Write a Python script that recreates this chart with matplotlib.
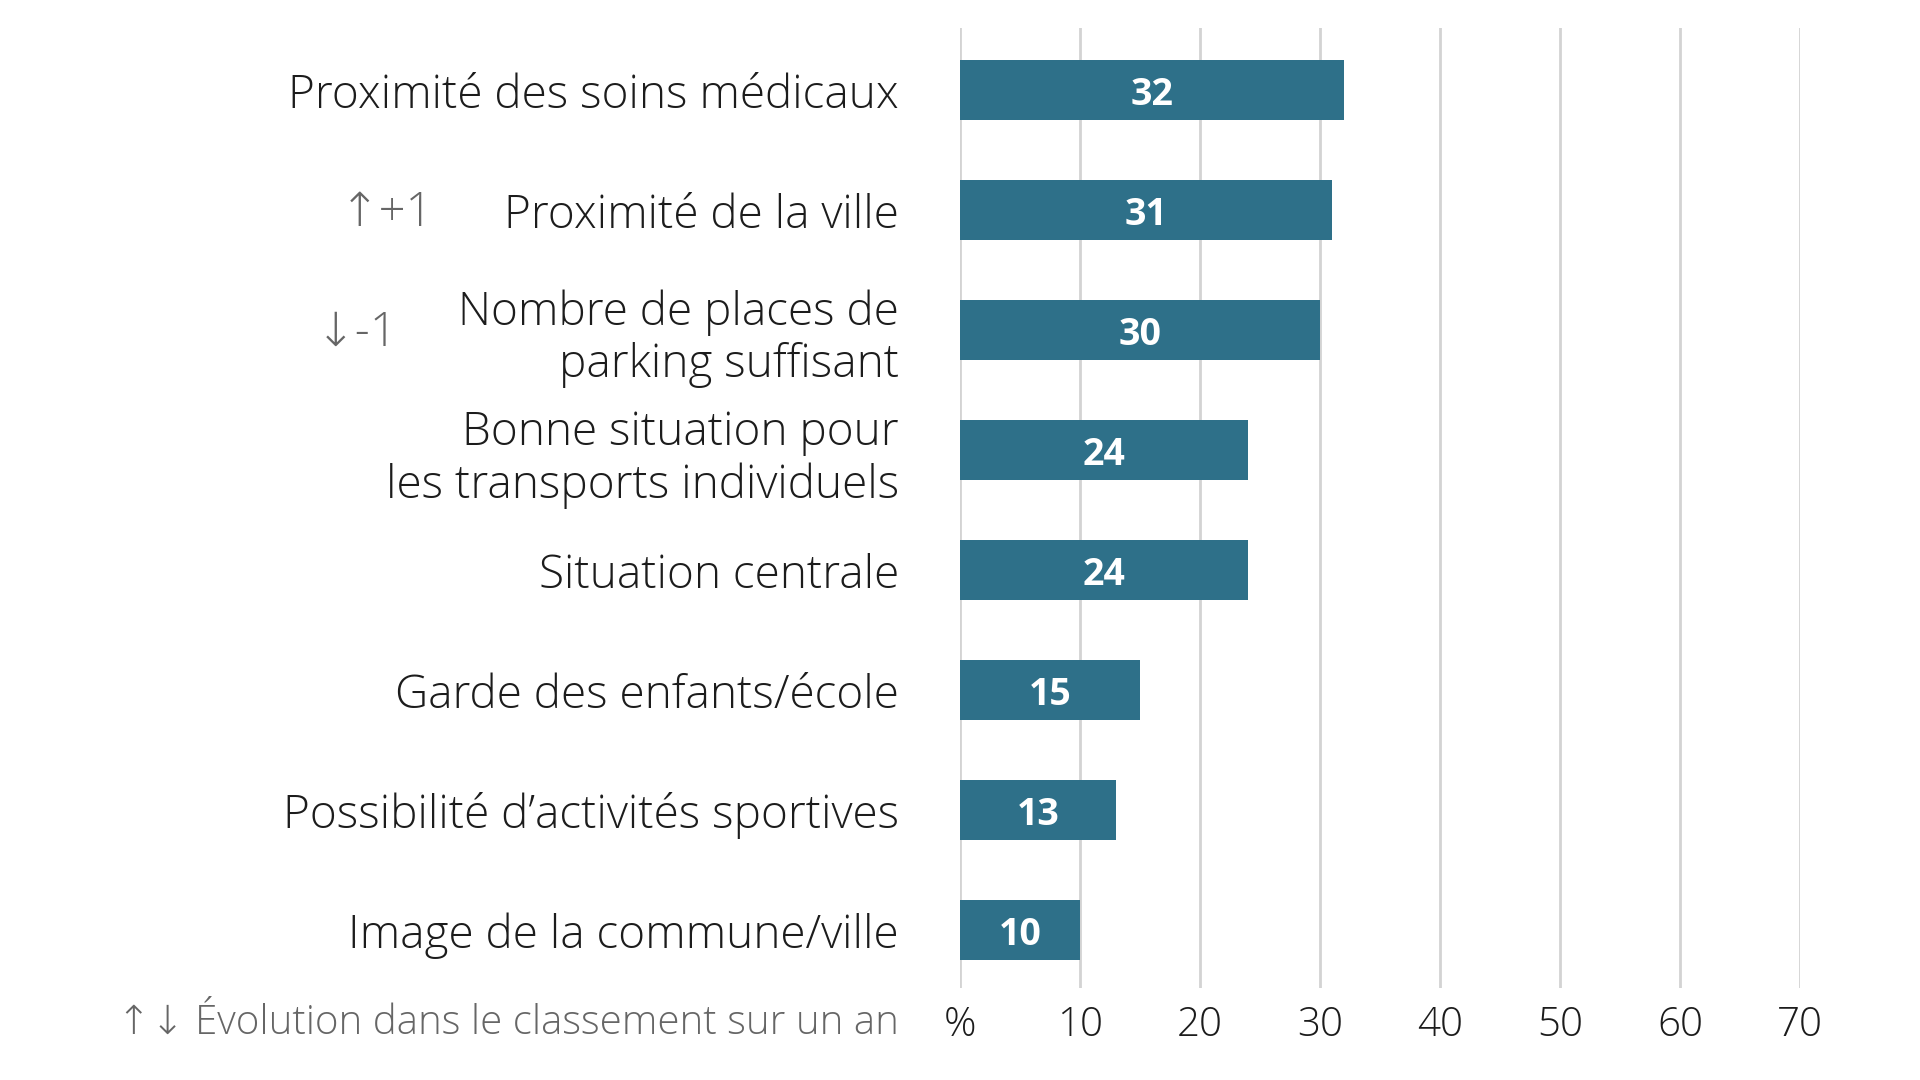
import matplotlib
matplotlib.use("Agg")
import matplotlib.pyplot as plt

plt.rcParams['font.family'] = ['Open Sans', 'DejaVu Sans']

categories = [
    "Proximité des soins médicaux",
    "Proximité de la ville",
    "Nombre de places de\nparking suffisant",
    "Bonne situation pour\nles transports individuels",
    "Situation centrale",
    "Garde des enfants/école",
    "Possibilité d’activités sportives",
    "Image de la commune/ville",
]
values = [32, 31, 30, 24, 24, 15, 13, 10]
rank_changes = ["", "↑+1", "↓-1", "", "", "", "", ""]
xtick_values = [0, 10, 20, 30, 40, 50, 60, 70]
xtick_labels = ["%", "10", "20", "30", "40", "50", "60", "70"]
footnote = "↑↓ Évolution dans le classement sur un an"

BAR = "#2e7089"
TEXT = "#1c1c1c"
GRAY = "#666666"

fig = plt.figure(figsize=(19.2, 10.8), dpi=100)
ax = fig.add_axes([0.5, 1 - 988 / 1080, 840 / 1920, 960 / 1080])

y = list(range(len(categories)))
ax.barh(y, values, height=0.5, color=BAR, zorder=3)
for yi, v in zip(y, values):
    ax.text(v / 2, yi, str(v), ha="center", va="center_baseline", color="white",
            fontsize=27, fontweight="bold", zorder=4)

ax.set_xlim(0, 70)
ax.set_ylim(len(categories) - 0.52, -0.52)
ax.set_xticks(xtick_values)
ax.set_xticklabels(xtick_labels, fontsize=29, fontweight="light", color=TEXT)
ax.set_yticks(y)
ax.set_yticklabels(categories, fontsize=33, fontweight="light", color=TEXT,
                   linespacing=1.18)
ax.tick_params(axis="y", length=0, pad=44)
ax.tick_params(axis="x", length=0, pad=12)
ax.grid(axis="x", color="#d3d3d3", linewidth=2, zorder=0)
for s in ax.spines.values():
    s.set_visible(False)

trans = ax.get_yaxis_transform()
arrow_x = {1: -0.627, 2: -0.669}
for yi, txt in enumerate(rank_changes):
    if txt:
        ax.text(arrow_x[yi], yi + 0.03, txt, transform=trans, ha="right", va="center",
                fontsize=34, fontweight="light", color=GRAY)

fig.text(899 / 1920, 1 - 1023 / 1080, footnote, ha="right", va="center",
         fontsize=29, fontweight="light", color=GRAY)

fig.savefig("out.png", dpi=100, facecolor="white")
